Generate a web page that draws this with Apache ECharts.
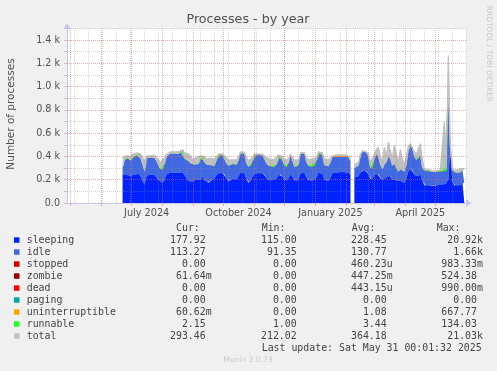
<!DOCTYPE html>
<html><head><meta charset="utf-8">
<script src="https://cdn.jsdelivr.net/npm/echarts@6/dist/echarts.min.js"></script>
<style>html,body{margin:0;padding:0;background:#f0f0f0}#c{width:497px;height:371px}</style>
</head><body><div id="c"></div>
<script>
// ---- data (one point every 2 days, starting 2024-06-22) ----
const seriesStart = '2024-06-22';
const stepDays = 2;
const sleeping = [240,245,240,250,235,250,245,255,250,230,190,160,235,245,245,250,240,215,195,180,
175,200,245,260,265,260,262,265,258,262,265,240,215,190,180,185,200,205,190,200,
225,195,180,175,190,200,210,240,258,260,255,250,210,185,190,210,220,205,230,260,
262,255,200,172,180,225,255,258,256,258,255,245,215,195,190,200,195,210,245,250,
225,200,190,210,250,225,195,185,205,255,260,258,220,195,190,205,195,220,260,262,
250,200,185,190,215,255,258,262,265,266,266,265,264,262,240,null,220,225,230,265,
280,280,275,250,205,200,240,260,250,210,195,210,215,250,235,200,210,195,180,190,
185,175,210,270,300,290,240,225,230,250,190,150,150,155,150,145,150,150,155,160,
155,170,165,200,470,180,150,148,160,150,170,178];
const idle = [65,125,150,135,130,145,155,155,170,155,140,110,150,150,145,150,145,145,125,110,
105,140,155,155,160,160,163,165,162,178,180,140,155,170,160,140,130,125,145,190,
180,155,150,145,135,130,110,130,152,152,155,155,130,135,135,125,125,125,140,165,
173,165,140,138,135,135,155,154,154,157,155,150,125,125,125,120,115,120,155,155,
145,120,115,130,160,140,115,125,125,165,170,167,130,125,120,125,125,140,170,178,
160,125,130,125,135,140,140,136,133,132,130,133,132,130,120,null,80,85,90,135,
160,160,160,150,95,90,140,160,150,120,95,120,135,150,145,120,130,105,90,100,
95,95,120,180,190,180,160,145,150,170,110,130,125,125,120,123,120,118,115,115,
115,120,110,750,10,100,115,112,110,112,115,113];
const uninterruptible = [1,1,1,1,1,1,1,1,1,1,1,1,1,1,1,1,1,1,1,1,
1,1,1,1,1,1,1,1,1,1,1,1,1,1,1,1,1,1,1,1,
1,1,1,1,1,1,1,1,2,5,3,1,1,1,1,1,1,1,1,1,
1,1,1,1,1,1,1,8,4,1,1,1,1,1,1,1,1,1,1,1,
1,1,1,1,6,1,1,1,1,1,1,1,1,1,1,1,1,1,1,1,
1,1,1,1,1,2,6,12,12,10,12,12,8,3,1,null,1,1,1,1,
1,1,1,1,1,1,1,1,1,1,1,1,1,1,1,1,1,1,1,1,
1,1,1,1,1,1,1,1,1,1,1,1,1,1,1,1,1,1,1,1,
1,1,1,1,1,1,1,1,1,1,1,1];
const runnable = [3,3,3,3,3,3,3,3,3,3,3,3,3,3,3,3,3,3,3,3,
3,3,3,3,3,3,3,3,3,3,3,3,3,3,3,3,3,3,3,3,
3,3,3,3,3,3,3,3,10,10,10,8,3,3,3,3,3,3,3,8,
8,3,3,3,3,3,6,6,6,6,3,3,3,3,3,3,3,3,3,3,
3,3,3,3,3,3,3,3,3,8,8,3,3,3,3,3,3,3,8,8,
3,3,3,3,3,5,5,5,5,5,5,5,5,5,3,null,3,3,3,3,
10,10,3,3,3,3,3,3,3,3,3,3,3,3,3,3,3,3,3,3,
3,3,3,3,3,3,3,3,3,3,3,3,3,3,3,3,3,3,3,3,
3,3,3,3,3,3,3,3,3,3,3,2];
const total = [395,400,405,410,400,420,425,430,435,420,390,360,405,410,405,415,410,395,370,350,
360,390,420,435,440,430,440,445,440,455,460,430,425,420,400,380,385,390,390,405,
420,400,380,375,385,380,375,400,420,425,420,420,390,370,375,370,380,370,400,440,
450,435,390,365,370,390,420,425,420,425,420,410,390,380,375,380,375,390,415,420,
400,370,365,380,420,395,370,370,370,430,440,435,390,370,365,380,375,390,440,450,
430,380,370,370,380,405,405,410,408,410,408,410,408,405,380,null,330,340,350,420,
445,445,440,420,350,345,420,460,480,400,350,480,400,525,450,380,500,420,350,460,
380,330,400,490,510,500,440,420,430,510,380,290,285,290,280,275,280,275,280,285,
280,700,290,1270,490,300,280,275,290,280,295,293];

// ---- axes ----
const yMajor = [0,200,400,600,800,1000,1200,1400];
const yTickLabels = ['0.0','0.2 k','0.4 k','0.6 k','0.8 k','1.0 k','1.2 k','1.4 k'];
const yMinor = [100,300,500,700,900,1100,1300,1500];
const monthStarts = ['2024-05-01','2024-06-01','2024-07-01','2024-08-01','2024-09-01','2024-10-01',
  '2024-11-01','2024-12-01','2025-01-01','2025-02-01','2025-03-01','2025-04-01','2025-05-01'];
const xLabelDates = ['2024-07-16','2024-10-16','2025-01-16','2025-04-16'];
const xLabelTexts = ['July 2024','October 2024','January 2025','April 2025'];
const minorAnchor = '2024-05-05';
const minorStepDays = 14;

// ---- legend table ----
const legNames = ['sleeping','idle','stopped','zombie','dead','paging','uninterruptible','runnable','total'];
const legColors = ['#0022ff','#4169e1','#cc0000','#990000','#ff0000','#00aaaa','#ffa500','#22ff22','#c0c0c0'];
const curVals = ['177.92','113.27','0.00','61.64m','0.00','0.00','60.62m','2.15','293.46'];
const minVals = ['115.00','91.35','0.00','0.00','0.00','0.00','0.00','1.00','212.02'];
const avgVals = ['228.45','130.77','460.23u','447.25m','443.15u','0.00','1.08','3.44','364.18'];
const maxVals = ['20.92k','1.66k','983.33m','524.38','990.00m','0.00','667.77','134.03','21.03k'];
const headers = ['Cur:','Min:','Avg:','Max:'];
const lastUpdate = 'Last update: Sat May 31 00:01:32 2025';

const DAY = 86400000;
function ts(s){const p=s.split('-');return Date.UTC(+p[0],+p[1]-1,+p[2]);}
const t0 = ts(seriesStart);
const dates = sleeping.map((_,i)=>t0+i*stepDays*DAY);
const pair = arr => arr.map((v,i)=>[dates[i],v]);
const xMin = Date.UTC(2024,3,27,7), xMax = Date.UTC(2025,5,1,5);
const minorDates=[]; for(let t=ts(minorAnchor);t<xMax;t+=minorStepDays*DAY) minorDates.push(t);
const labelTs = xLabelDates.map(ts);
const monthTs = monthStarts.map(ts);

const majorStyle = {color:'rgba(225,100,100,0.55)', type:[1,1], width:1};
const minorStyle = {color:'rgba(140,140,140,0.38)', type:[1,1], width:1};
const gridLines = []
  .concat(yMinor.map(v=>({yAxis:v, lineStyle:minorStyle})))
  .concat(minorDates.map(t=>({xAxis:t, lineStyle:minorStyle})))
  .concat(yMajor.filter(v=>v>0).map(v=>({yAxis:v, lineStyle:majorStyle})))
  .concat(monthTs.map(t=>({xAxis:t, lineStyle:majorStyle})));

const noLine = {width:0, opacity:0};
const areaSeries = (name, data, color, line) => ({
  name, type:'line', xAxisIndex:0, data:pair(data), stack:'p', showSymbol:false, symbol:'none', z:3,
  itemStyle:{color}, lineStyle:line||noLine, areaStyle:{color, opacity:1}, connectNulls:false, animation:false, silent:true
});

const mono = 'DejaVu Sans Mono';
const txtCol = '#444';
const graphic = [];
graphic.push({type:'text', x:248, y:19.5, style:{text:'Processes - by year', font:'12.7px "DejaVu Sans"', fill:'#505050', textAlign:'center', textVerticalAlign:'middle'}});
graphic.push({type:'text', x:11, y:114, rotation:Math.PI/2, style:{text:'Number of processes', font:'10.5px "DejaVu Sans"', fill:'#505050', textAlign:'center', textVerticalAlign:'middle'}});
graphic.push({type:'text', x:488.5, y:54, rotation:-Math.PI/2, style:{text:'RRDTOOL / TOBI OETIKER', font:'7.5px "DejaVu Sans"', fill:'#c8c8c8', textAlign:'center', textVerticalAlign:'middle'}});
graphic.push({type:'text', x:248, y:360, style:{text:'Munin 2.0.73', font:'7.5px "DejaVu Sans"', fill:'#c8c8c8', textAlign:'center', textVerticalAlign:'middle'}});
const hdrX = [176,261.7,351.7,436.7];
headers.forEach((h,k)=>graphic.push({type:'text', x:hdrX[k], y:228.3, style:{text:h, font:'9.9px "'+mono+'"', fill:txtCol, textAlign:'left', textVerticalAlign:'middle'}}));
const colEnd = [205.7,296.7,386.7,477];
const cols = [curVals,minVals,avgVals,maxVals];
legNames.forEach((n,k)=>{
  const y = 240 + 12*k;
  graphic.push({type:'rect', shape:{x:14,y:y-2.7,width:5.5,height:5.5}, style:{fill:legColors[k]}});
  graphic.push({type:'text', x:26.7, y, style:{text:n, font:'9.9px "'+mono+'"', fill:txtCol, textAlign:'left', textVerticalAlign:'middle'}});
  cols.forEach((arr,c)=>{
    const s = arr[k]; const last = s.slice(-1);
    const hasUnit = /[a-z]/i.test(last);
    const num = hasUnit ? s.slice(0,-1) : s;
    graphic.push({type:'text', x:colEnd[c], y, style:{text:num, font:'9.9px "'+mono+'"', fill:txtCol, textAlign:'right', textVerticalAlign:'middle'}});
    if(hasUnit) graphic.push({type:'text', x:colEnd[c], y, style:{text:last, font:'9.9px "'+mono+'"', fill:txtCol, textAlign:'left', textVerticalAlign:'middle'}});
  });
});
graphic.push({type:'text', x:261.7, y:348, style:{text:lastUpdate, font:'9.9px "'+mono+'"', fill:txtCol, textAlign:'left', textVerticalAlign:'middle'}});

const axisCol = '#c4c6ee';
const chart = echarts.init(document.getElementById('c'), null, {renderer:'canvas'});
chart.setOption({
  backgroundColor:'#f0f0f0',
  animation:false,
  grid:{left:67, right:30.5, top:28.4, bottom:168, show:true, backgroundColor:'#ffffff', borderWidth:0},
  xAxis:[
    {type:'time', min:xMin, max:xMax, show:false, position:'bottom'},
    {type:'value', min:xMin, max:xMax, position:'bottom', offset:0,
      axisLine:{show:true, onZero:false, lineStyle:{color:axisCol, width:1}, symbol:['none','arrow'], symbolSize:[6,6], symbolOffset:[0,5]},
      axisTick:{show:true, customValues:monthTs, length:3, lineStyle:{color:'#e8a8a8'}},
      axisLabel:{show:true, customValues:labelTs, formatter:v=>{const k=labelTs.indexOf(v);return k<0?'':xLabelTexts[k];},
        color:'#505050', fontFamily:'DejaVu Sans', fontSize:9.7, margin:5},
      splitLine:{show:false}}
  ],
  yAxis:{type:'value', min:0, max:1500, interval:100,
    axisLine:{show:true, lineStyle:{color:axisCol, width:1}, symbol:['none','arrow'], symbolSize:[6,6], symbolOffset:[0,5]},
    axisTick:{show:true, length:3, lineStyle:{color:'#e8b8b8'}},
    axisLabel:{formatter:v=>{const k=yMajor.indexOf(v);return k<0?'':yTickLabels[k];}, color:'#505050', fontFamily:'DejaVu Sans', fontSize:9.6, margin:7},
    splitLine:{show:false}},
  series:[
    {name:'total', type:'line', xAxisIndex:0, data:pair(total), showSymbol:false, symbol:'none', z:1, lineStyle:noLine,
     itemStyle:{color:'#c0c0c0'}, areaStyle:{color:'#c0c0c0', opacity:1}, connectNulls:false, animation:false, silent:true,
     markLine:{silent:true, symbol:['none','none'], label:{show:false}, animation:false, z:10, data:gridLines}},
    areaSeries('sleeping', sleeping, '#0022ff'),
    areaSeries('idle', idle, '#4169e1'),
    areaSeries('uninterruptible', uninterruptible, '#ffa500'),
    areaSeries('runnable', runnable, '#22ff22', {width:1, color:'#c4c4c4', opacity:1}),
    {name:'total edge', type:'line', xAxisIndex:0, data:pair(total), showSymbol:false, symbol:'none', z:5,
     lineStyle:{width:1.2, color:'#c0c0c0'}, connectNulls:false, animation:false, silent:true}
  ],
  graphic
});
</script></body></html>
